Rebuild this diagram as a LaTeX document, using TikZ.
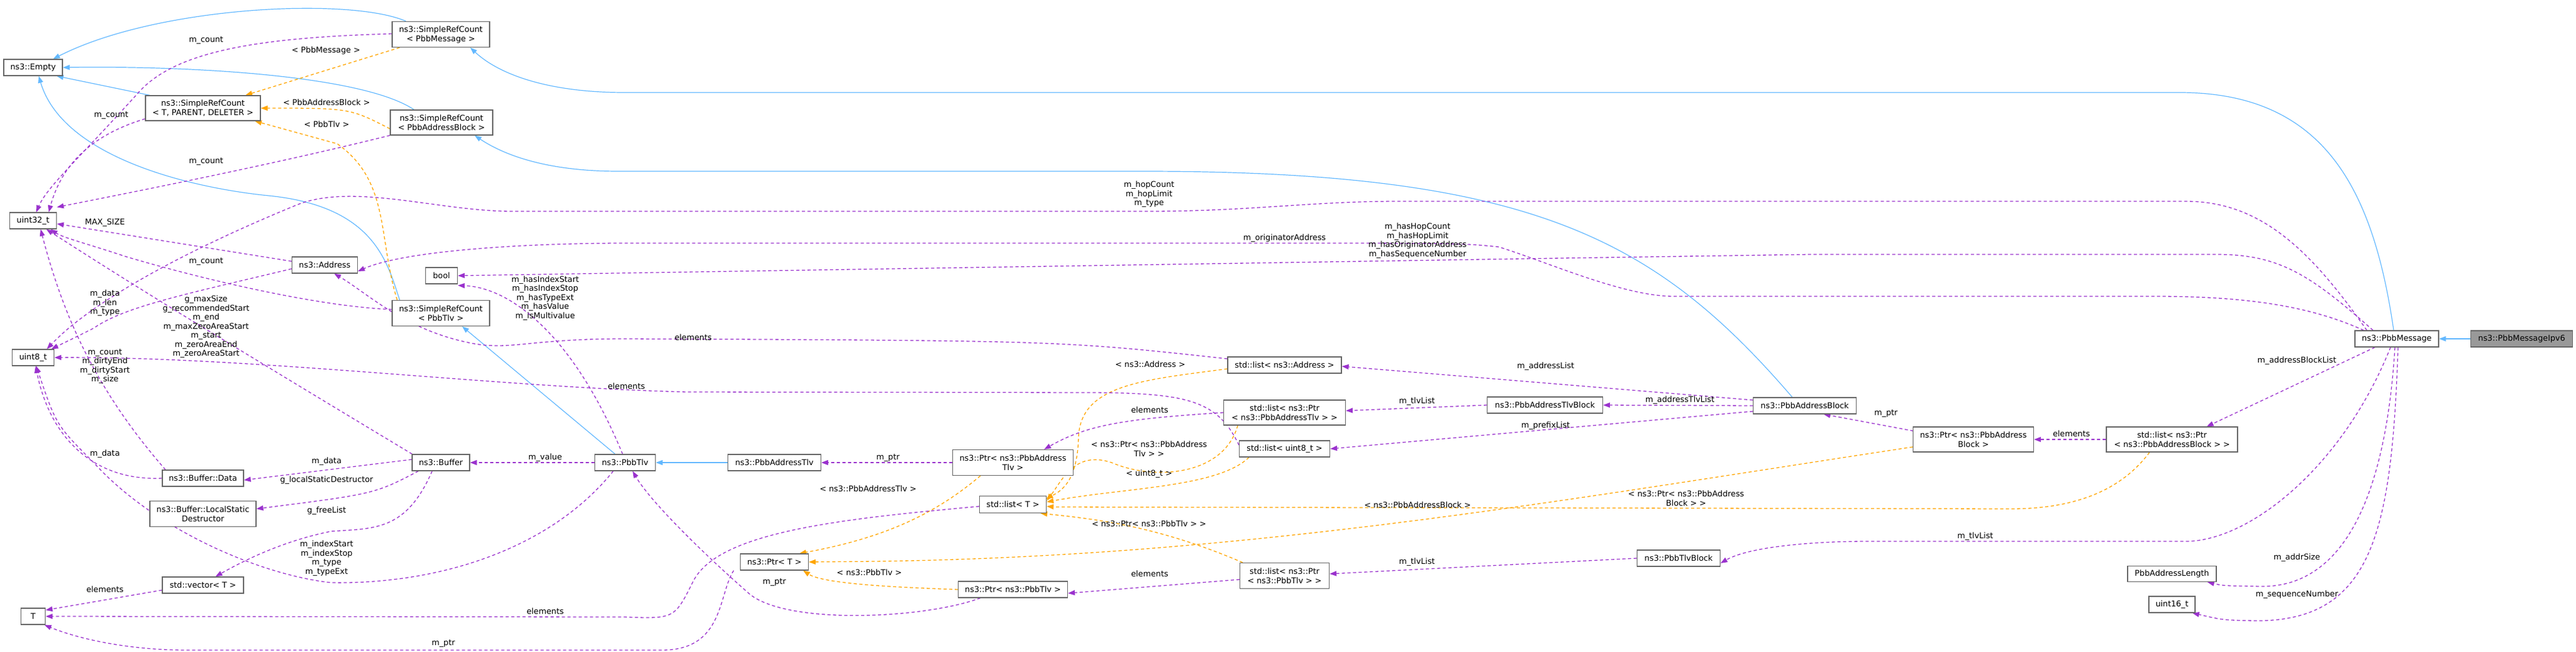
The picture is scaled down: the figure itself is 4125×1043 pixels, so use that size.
\documentclass[tikz,border=0pt]{standalone}
\usepackage{fontspec}
\setmainfont{DejaVu Sans}
\usetikzlibrary{arrows.meta}
\pgfdeclarelayer{edgelayer}
\pgfsetlayers{edgelayer,main}
\definecolor{inhc}{HTML}{63B8FF}
\definecolor{usec}{HTML}{9A32CD}
\definecolor{tplc}{HTML}{FFA500}
\definecolor{brd}{HTML}{666666}
\begin{document}
\begin{tikzpicture}[x=1pt,y=-1pt,
  box/.style={draw=brd,line width=1.2pt,fill=white,rectangle,inner sep=0pt,align=center,font=\fontsize{12.8}{15}\selectfont},
  lbl/.style={inner sep=0pt,align=center,font=\fontsize{12.8}{14.5}\selectfont},
  tip/.style={-{Triangle[length=11pt,width=8pt]}},
  inh/.style={tip,draw=inhc,line width=1.2pt},
  use/.style={tip,draw=usec,line width=1.3pt,dash pattern=on 5pt off 4pt},
  tpl/.style={tip,draw=tplc,line width=1.3pt,dash pattern=on 5pt off 4pt}]
\useasboundingbox (0,0) rectangle (4125,1043);
\node[box,minimum width=94,minimum height=26] (empty) at (53,108) {ns3::Empty};
\node[box,minimum width=156,minimum height=41] (srcMsg) at (706,55) {ns3::SimpleRefCount\\< PbbMessage >};
\node[box,minimum width=184,minimum height=40] (srcT) at (325,173) {ns3::SimpleRefCount\\< T, PARENT, DELETER >};
\node[box,minimum width=164,minimum height=40] (srcAB) at (707,196) {ns3::SimpleRefCount\\< PbbAddressBlock >};
\node[box,minimum width=75,minimum height=26] (u32) at (53,353) {uint32\_t};
\node[box,minimum width=105,minimum height=26] (addr) at (520,424) {ns3::Address};
\node[box,minimum width=51,minimum height=26] (bool) at (707,441) {bool};
\node[box,minimum width=156,minimum height=41] (srcTlv) at (706,501) {ns3::SimpleRefCount\\< PbbTlv >};
\node[box,minimum width=67,minimum height=26] (u8) at (53,572) {uint8\_t};
\node[box,minimum width=130,minimum height=26] (data) at (325,765) {ns3::Buffer::Data};
\node[box,minimum width=92,minimum height=26] (buf) at (706,740) {ns3::Buffer};
\node[box,minimum width=170,minimum height=41] (lsd) at (325,822) {ns3::Buffer::LocalStatic\\Destructor};
\node[box,minimum width=130,minimum height=26] (vec) at (325,936) {std::vector< T >};
\node[box,minimum width=39,minimum height=26] (T) at (53,986) {T};
\node[box,minimum width=97,minimum height=26] (tlv) at (1001,740) {ns3::PbbTlv};
\node[box,minimum width=149,minimum height=26] (pat) at (1240,740) {ns3::PbbAddressTlv};
\node[box,minimum width=109,minimum height=26] (ptrT) at (1240,899) {ns3::Ptr< T >};
\node[box,minimum width=182,minimum height=26] (lAddr) at (2057,584) {std::list< ns3::Address >};
\node[box,minimum width=195,minimum height=40] (lPAT) at (2057,660) {std::list< ns3::Ptr\\< ns3::PbbAddressTlv > >};
\node[box,minimum width=145,minimum height=26] (lU8) at (2057,718) {std::list< uint8\_t >};
\node[box,minimum width=193,minimum height=41] (pPAT) at (1622,740) {ns3::Ptr< ns3::PbbAddress\\Tlv >};
\node[box,minimum width=107,minimum height=27] (lT) at (1622,807) {std::list< T >};
\node[box,minimum width=175,minimum height=26] (pTlv) at (1622,943) {ns3::Ptr< ns3::PbbTlv >};
\node[box,minimum width=143,minimum height=41] (lPTlv) at (2057,921) {std::list< ns3::Ptr\\< ns3::PbbTlv > >};
\node[box,minimum width=185,minimum height=26] (patb) at (2474,648) {ns3::PbbAddressTlvBlock};
\node[box,minimum width=133,minimum height=26] (tlvb) at (2688,893) {ns3::PbbTlvBlock};
\node[box,minimum width=134,minimum height=26] (msg) at (3838,542) {ns3::PbbMessage};
\node[box,minimum width=163,minimum height=26,fill={rgb,255:red,153;green,153;blue,153}] (ipv6) at (4038,542) {ns3::PbbMessageIpv6};
\node[box,minimum width=165,minimum height=26] (pab) at (2890,649) {ns3::PbbAddressBlock};
\node[box,minimum width=193,minimum height=40] (pPAB) at (3160,703) {ns3::Ptr< ns3::PbbAddress\\Block >};
\node[box,minimum width=210,minimum height=40] (lPAB) at (3478,703) {std::list< ns3::Ptr\\< ns3::PbbAddressBlock > >};
\node[box,minimum width=142,minimum height=25] (pal) at (3478,918) {PbbAddressLength};
\node[box,minimum width=74,minimum height=26] (u16) at (3478,967) {uint16\_t};
\begin{pgfonlayer}{edgelayer}
% inheritance
\draw[inh] ([xshift=-56]srcMsg.north) .. controls (560,-5) and (250,10) .. ([xshift=32]empty.north);
\draw[inh] ([xshift=-44]srcAB.north) .. controls (580,120) and (300,105) .. (empty.east);
\draw[inh] ([xshift=-85]srcT.north) -- ([xshift=-10]empty.south east);
\draw[inh] ([xshift=-66]srcTlv.north) .. controls (620,420) and (600,330) .. (430,313) .. controls (300,300) and (100,250) .. ([xshift=9]empty.south);
\draw[inh] ([xshift=-5]msg.north) .. controls (3800,300) and (3720,148) .. (3490,148) -- (1000,148) .. controls (880,148) and (800,120) .. ([xshift=47]srcMsg.south);
\draw[inh] ([xshift=-20]pab.north) .. controls (2650,380) and (2450,274) .. (1830,274) -- (990,274) .. controls (880,274) and (810,250) .. ([xshift=53]srcAB.south);
\draw[inh] ([xshift=-16]tlv.north) -- ([xshift=34]srcTlv.south);
\draw[inh] (pat.west) -- (tlv.east);
\draw[inh] (ipv6.west) -- (msg.east);
% template
\draw[tpl] ([xshift=-66]srcMsg.south) -- ([xshift=68]srcT.north);
\draw[tpl] ([yshift=-10]srcAB.west) .. controls (560,173) .. (srcT.east);
\draw[tpl] ([xshift=-70]srcTlv.north) .. controls (605,380) and (625,290) .. (540,230) -- ([xshift=83]srcT.south);
\draw[tpl] ([yshift=-6]lAddr.west) .. controls (1830,608) and (1730,615) .. (1727,700) .. controls (1725,770) and (1700,785) .. ([xshift=-1,yshift=-5]lT.north east);
\draw[tpl] ([xshift=-75]lPAT.south) .. controls (1960,760) and (1850,770) .. (1780,740) .. controls (1720,720) and (1700,770) .. ([yshift=-8]lT.north east);
\draw[tpl] ([xshift=-57]lU8.south) .. controls (1950,780) and (1800,780) .. ([yshift=4]lT.east);
\draw[tpl] ([xshift=-36]lPAB.south) .. controls (3400,780) and (3330,814) .. (3220,814) -- (1690,811) -- ([yshift=-3]lT.east);
\draw[tpl] ([yshift=-12]pPAB.west) .. controls (2500,800) and (2000,890) .. (1400,898) -- (ptrT.east);
\draw[tpl] ([xshift=-67]lPTlv.north) .. controls (1850,840) and (1750,830) .. ([xshift=44]lT.south);
\draw[tpl] ([xshift=-52]pPAT.south) .. controls (1500,820) and (1420,860) .. ([xshift=40]ptrT.north);
\draw[tpl] (pTlv.west) .. controls (1450,940) and (1320,935) .. ([xshift=46]ptrT.south);
% usage
\draw[use] ([yshift=1]srcMsg.west) .. controls (420,60) and (280,80) .. (220,150) .. controls (120,260) and (75,300) .. ([xshift=5]u32.north);
\draw[use] ([yshift=-17]srcT.west) .. controls (150,215) and (100,260) .. ([xshift=25]u32.north);
\draw[use] (srcAB.south west) .. controls (450,260) and (250,300) .. ([yshift=8]u32.north east);
\draw[use] ([yshift=6]addr.west) -- ([yshift=-5]u32.east);
\draw[use] ([yshift=6]srcTlv.west) .. controls (500,490) and (300,440) .. (200,410) .. controls (140,390) and (100,380) .. ([xshift=-10]u32.south east);
\draw[use] ([yshift=-6]addr.west) .. controls (300,470) and (200,490) .. (150,525) .. controls (120,540) .. ([xshift=-5]u8.north east);
\draw[use] ([xshift=-48]msg.north) .. controls (3700,400) and (3620,322) .. (3500,322) -- (2240,322) .. controls (2100,322) and (2000,338) .. (1840,338) -- (820,338) .. controls (700,338) and (560,290) .. (470,330) .. controls (300,400) and (150,480) .. ([xshift=22]u8.north);
\draw[use] ([xshift=-38]msg.north) .. controls (3700,440) and (3650,407) .. (3550,407) -- (2900,407) .. controls (2700,410) .. (2500,413) -- (bool.east);
\draw[use] ([xshift=-53]msg.north) .. controls (3700,490) and (3600,474) .. (3450,474) -- (2680,474) .. controls (2600,474) and (2480,420) .. (2400,395) .. controls (2350,390) .. (2200,389) -- (1000,389) .. controls (850,389) and (650,400) .. ([yshift=-10]addr.east);
\draw[use] ([xshift=-46]buf.north) .. controls (450,600) and (250,480) .. ([xshift=-17]u32.south east);
\draw[use] ([xshift=-60]data.north) .. controls (150,620) and (100,500) .. ([xshift=12]u32.south);
\draw[use] (data.west) .. controls (150,770) and (80,700) .. ([xshift=4]u8.south);
\draw[use] ([xshift=-19]tlv.south) .. controls (880,880) and (700,935) .. (530,932) .. controls (420,920) and (250,850) .. (150,740) .. controls (90,680) .. ([xshift=5]u8.south);
\draw[use] ([xshift=-4]tlv.north) .. controls (920,540) and (820,460) .. ([yshift=-2]bool.south east);
\draw[use] ([yshift=5]buf.west) -- ([yshift=-3]data.east);
\draw[use] ([xshift=-36]buf.south) .. controls (600,790) .. ([yshift=8]lsd.east);
\draw[use] ([xshift=-14]buf.south) .. controls (650,850) and (600,845) .. (530,850) .. controls (480,860) and (420,880) .. ([xshift=20]vec.north);
\draw[use] (tlv.west) -- (buf.east);
\draw[use] ([yshift=-8]vec.west) -- ([yshift=10]T.east);
\draw[use] ([yshift=-3]lT.west) .. controls (1350,830) and (1150,850) .. (1110,930) .. controls (1080,990) .. (1000,987) -- (T.east);
\draw[use] ([xshift=-10]ptrT.south west) .. controls (1150,950) and (1160,1040) .. (1060,1040) -- (300,1040) .. controls (200,1040) and (120,1020) .. ([xshift=-2]T.south east);
\draw[use] ([xshift=-52]pTlv.south) .. controls (1480,990) and (1260,1000) .. (1200,950) .. controls (1120,880) and (1040,800) .. ([xshift=12]tlv.south);
\draw[use] (pPAT.west) -- (pat.east);
\draw[use] (lPAT.west) .. controls (1800,670) and (1740,680) .. ([xshift=50]pPAT.north);
\draw[use] ([yshift=-6]lPTlv.west) -- ([yshift=-6]pTlv.east);
\draw[use] (patb.west) -- ([yshift=3]lPAT.east);
\draw[use] (tlvb.west) -- ([yshift=3]lPTlv.east);
\draw[use] (pab.west) -- (patb.east);
\draw[use] ([yshift=-9]pab.west) -- (lU8.east);
\draw[use] ([yshift=9]pab.west) -- ([yshift=-2]lAddr.east);
\draw[use] ([yshift=10]lAddr.west) .. controls (1700,545) .. (1000,542) .. controls (850,542) and (820,560) .. (760,550) .. controls (650,530) and (590,470) .. ([xshift=15]addr.south);
\draw[use] ([yshift=6]lU8.west) .. controls (1950,640) and (1900,629) .. (1750,628) -- (1100,627) .. controls (800,620) and (400,570) .. (u8.east);
\draw[use] ([xshift=-96,yshift=-7]pPAB.north) -- ([xshift=30]pab.south);
\draw[use] (lPAB.west) -- (pPAB.east);
\draw[use] ([xshift=-35]msg.south) -- ([xshift=-50]lPAB.north east);
\draw[use] ([xshift=-10]msg.south) .. controls (3750,750) and (3600,866) .. (3500,866) -- (2990,866) .. controls (2900,866) and (2800,875) .. ([yshift=-8]tlvb.east);
\draw[use] ([xshift=-3]msg.south) .. controls (3820,800) and (3750,940) .. (3620,938) .. controls (3560,937) .. ([xshift=-15]pal.south east);
\draw[use] ([xshift=2]msg.south) .. controls (3830,850) and (3800,995) .. (3610,993) .. controls (3560,992) .. ([xshift=-5]u16.south east);
\end{pgfonlayer}
% labels
\node[lbl] (l1) at (330,65) {m\_count};
\node[lbl] (l2) at (178,185) {m\_count};
\node[lbl] (l3) at (330,259) {m\_count};
\node[lbl] (l4) at (168,356) {MAX\_SIZE};
\node[lbl] (l5) at (330,419) {m\_count};
\node[lbl] (l6) at (168,485) {m\_data\\m\_len\\m\_type};
\node[lbl] (l7) at (1840,311) {m\_hopCount\\m\_hopLimit\\m\_type};
\node[lbl] (l8) at (2270,385) {m\_hasHopCount\\m\_hasHopLimit\\m\_hasOriginatorAddress\\m\_hasSequenceNumber};
\node[lbl] (l9) at (2057,381) {m\_originatorAddress};
\node[lbl] (l10) at (330,523) {g\_maxSize\\g\_recommendedStart\\m\_end\\m\_maxZeroAreaStart\\m\_start\\m\_zeroAreaEnd\\m\_zeroAreaStart};
\node[lbl] (l11) at (168,586) {m\_count\\m\_dirtyEnd\\m\_dirtyStart\\m\_size};
\node[lbl] (l12) at (168,726) {m\_data};
\node[lbl] (l13) at (523,893) {m\_indexStart\\m\_indexStop\\m\_type\\m\_typeExt};
\node[lbl] (l14) at (873,477) {m\_hasIndexStart\\m\_hasIndexStop\\m\_hasTypeExt\\m\_hasValue\\m\_isMultivalue};
\node[lbl] (l15) at (523,738) {m\_data};
\node[lbl] (l16) at (523,768) {g\_localStaticDestructor};
\node[lbl] (l17) at (523,817) {g\_freeList};
\node[lbl] (l18) at (873,732) {m\_value};
\node[lbl] (l19) at (168,943) {elements};
\node[lbl] (l20) at (873,978) {elements};
\node[lbl] (l21) at (710,1030) {m\_ptr};
\node[lbl] (l22) at (1240,932) {m\_ptr};
\node[lbl] (l23) at (1422,733) {m\_ptr};
\node[lbl] (l24) at (1841,656) {elements};
\node[lbl] (l25) at (1841,918) {elements};
\node[lbl] (l26) at (2269,642) {m\_tlvList};
\node[lbl] (l27) at (2269,899) {m\_tlvList};
\node[lbl] (l28) at (2690,640) {m\_addressTlvList};
\node[lbl] (l29) at (2475,681) {m\_prefixList};
\node[lbl] (l30) at (2475,586) {m\_addressList};
\node[lbl] (l31) at (1110,540) {elements};
\node[lbl] (l32) at (1003,618) {elements};
\node[lbl] (l33) at (3020,662) {m\_ptr};
\node[lbl] (l34) at (3317,694) {elements};
\node[lbl] (l35) at (3678,577) {m\_addressBlockList};
\node[lbl] (l36) at (3163,858) {m\_tlvList};
\node[lbl] (l37) at (3678,892) {m\_addrSize};
\node[lbl] (l38) at (3678,951) {m\_sequenceNumber};
\node[lbl] (t1) at (522,81) {< PbbMessage >};
\node[lbl] (t2) at (523,164) {< PbbAddressBlock >};
\node[lbl] (t3) at (523,199) {< PbbTlv >};
\node[lbl] (t4) at (1842,583) {< ns3::Address >};
\node[lbl] (t5) at (1840,718) {< ns3::Ptr< ns3::PbbAddress\\Tlv > >};
\node[lbl] (t6) at (1840,758) {< uint8\_t >};
\node[lbl] (t7) at (2270,808) {< ns3::PbbAddressBlock >};
\node[lbl] (t8) at (2700,797) {< ns3::Ptr< ns3::PbbAddress\\Block > >};
\node[lbl] (t9) at (1840,838) {< ns3::Ptr< ns3::PbbTlv > >};
\node[lbl] (t10) at (1390,782) {< ns3::PbbAddressTlv >};
\node[lbl] (t11) at (1392,916) {< ns3::PbbTlv >};
\end{tikzpicture}
\end{document}
